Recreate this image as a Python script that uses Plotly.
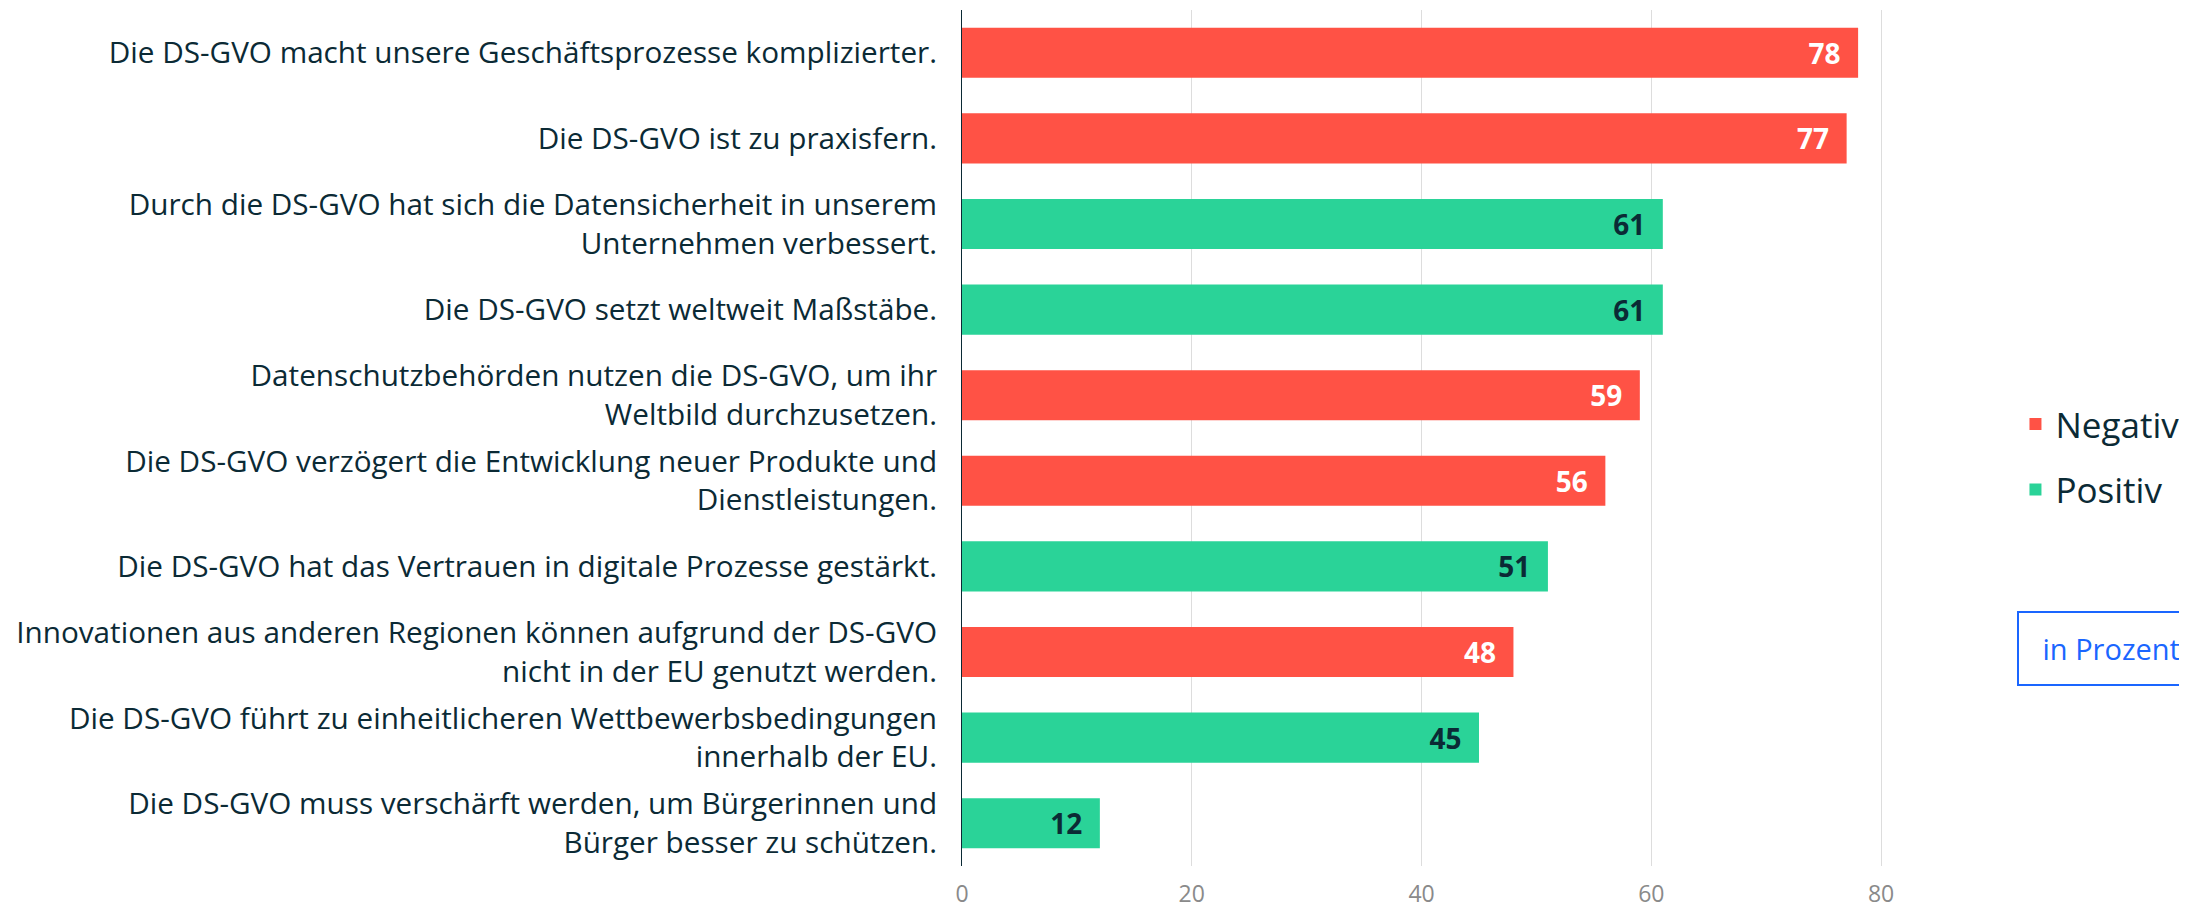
import plotly.graph_objects as go

categories = [
    "Die DS-GVO macht unsere Geschäftsprozesse komplizierter.",
    "Die DS-GVO ist zu praxisfern.",
    "Durch die DS-GVO hat sich die Datensicherheit in unserem<br>Unternehmen verbessert.",
    "Die DS-GVO setzt weltweit Maßstäbe.",
    "Datenschutzbehörden nutzen die DS-GVO, um ihr<br>Weltbild durchzusetzen.",
    "Die DS-GVO verzögert die Entwicklung neuer Produkte und<br>Dienstleistungen.",
    "Die DS-GVO hat das Vertrauen in digitale Prozesse gestärkt.",
    "Innovationen aus anderen Regionen können aufgrund der DS-GVO<br>nicht in der EU genutzt werden.",
    "Die DS-GVO führt zu einheitlicheren Wettbewerbsbedingungen<br>innerhalb der EU.",
    "Die DS-GVO muss verschärft werden, um Bürgerinnen und<br>Bürger besser zu schützen.",
]
values = [78, 77, 61, 61, 59, 56, 51, 48, 45, 12]
sentiment = ["Negativ", "Negativ", "Positiv", "Positiv", "Negativ",
             "Negativ", "Positiv", "Negativ", "Positiv", "Positiv"]
series_names = ["Negativ", "Positiv"]
series_colors = {"Negativ": "#FF5245", "Positiv": "#2AD398"}
label_colors = {"Negativ": "#FFFFFF", "Positiv": "#0B2A35"}
x_ticks = [0, 20, 40, 60, 80]

FONT = "Open Sans"
DARK = "#0B2A35"

fig = go.Figure()
for name in series_names:
    ys = [c for c, s in zip(categories, sentiment) if s == name]
    xs = [v for v, s in zip(values, sentiment) if s == name]
    fig.add_trace(go.Bar(
        y=ys, x=xs, name=name, orientation="h",
        marker=dict(color=series_colors[name], line=dict(width=0)),
        text=[f"{v}\u00a0\u00a0" for v in xs],
        textposition="inside", insidetextanchor="end",
        textfont=dict(family=FONT, size=28, color=label_colors[name], weight="bold"),
        legendgroup=name,
        hoverinfo="x+y",
    ))

fig.update_layout(
    width=2179, height=901,
    barmode="relative",
    bargap=0.415,
    plot_bgcolor="white", paper_bgcolor="white",
    margin=dict(l=954, r=214, t=2, b=43),
    font=dict(family=FONT, color=DARK),
    showlegend=True,
    legend=dict(
        x=1.042, xanchor="left", y=0.478, yanchor="middle",
        font=dict(family=FONT, size=35, color=DARK),
        tracegroupgap=17, itemwidth=30, traceorder="grouped",
        bgcolor="rgba(0,0,0,0)",
    ),
    xaxis=dict(
        range=[0, 88], tickvals=x_ticks, showgrid=True, gridcolor="#DDDDDD",
        gridwidth=1, zeroline=False, showline=False, ticks="",
        tickfont=dict(family=FONT, size=23, color="#8A8A8A"),
        ticklabelstandoff=12, fixedrange=True, automargin=False,
    ),
    yaxis=dict(
        categoryorder="array", categoryarray=categories, autorange="reversed",
        showline=True, linecolor=DARK, linewidth=1, showgrid=False,
        zeroline=False, ticks="",
        tickfont=dict(family=FONT, size=29.7, color=DARK),
        ticklabelstandoff=18, fixedrange=True, automargin=False,
    ),
    annotations=[dict(
        text="\u00a0in Prozent", xref="paper", yref="paper", x=1.0433, y=0.2545,
        xanchor="left", yanchor="middle", showarrow=False,
        font=dict(family=FONT, size=29, color="#1A66FF"),
        bordercolor="#1A66FF", borderwidth=2, borderpad=16, bgcolor="white",
    )],
)

fig.write_html("out.html")
